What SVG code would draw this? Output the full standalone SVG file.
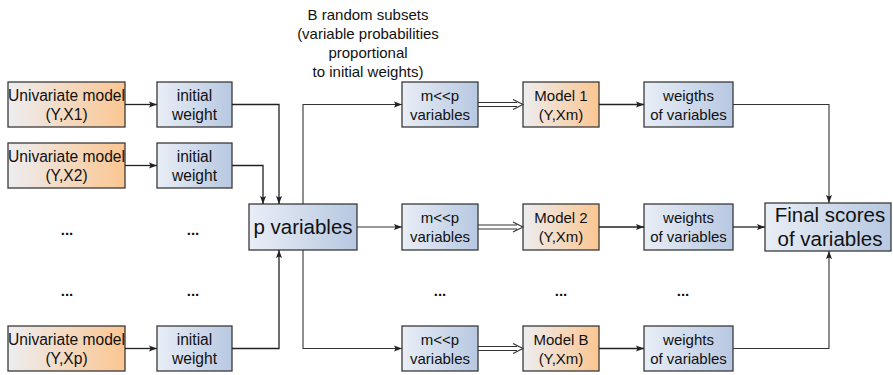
<svg xmlns="http://www.w3.org/2000/svg" width="893" height="375" viewBox="0 0 893 375">
  <defs>
    <linearGradient id="gOrange" x1="0" y1="0" x2="1" y2="0">
      <stop offset="0" stop-color="#ededf0"/>
      <stop offset="1" stop-color="#fbc691"/>
    </linearGradient>
    <linearGradient id="gBlue" x1="0" y1="0" x2="1" y2="0">
      <stop offset="0" stop-color="#e9eef6"/>
      <stop offset="1" stop-color="#b7c8e1"/>
    </linearGradient>
    <marker id="arr" viewBox="0 0 8 8" refX="8" refY="4" markerWidth="8" markerHeight="8" markerUnits="userSpaceOnUse" orient="auto">
      <path d="M0,1 L8,4 L0,7 L1.5,4 Z" fill="#222"/>
    </marker>
    <style>
      .box { stroke: #3a3a3a; stroke-width: 1.3; }
      .or { fill: url(#gOrange); }
      .bl { fill: url(#gBlue); }
      text { font-family: "Liberation Sans", Arial, sans-serif; fill: #111; text-anchor: middle; }
      .t { font-size: 15px; }
      .u { font-size: 15.6px; }
      .big { font-size: 20.5px; }
      .dots { font-size: 15px; font-weight: bold; }
      .con { fill: none; stroke: #222; stroke-width: 1.3; }
      .con2 { fill: none; stroke: #333; stroke-width: 1.1; }
    </style>
  </defs>

  <!-- caption over the sampling step -->
  <g id="caption">
    <text class="t" x="368" y="20">B random subsets</text>
    <text class="t" x="368" y="39">(variable probabilities</text>
    <text class="t" x="368" y="58">proportional</text>
    <text class="t" x="368" y="77">to initial weights)</text>
  </g>

  <!-- univariate models -->
  <g id="uni1">
    <rect class="box or" x="8" y="82" width="117" height="45"/>
    <text class="u" x="66.5" y="101">Univariate model</text>
    <text class="u" x="66.5" y="120">(Y,X1)</text>
  </g>
  <g id="uni2">
    <rect class="box or" x="8" y="143" width="117" height="45"/>
    <text class="u" x="66.5" y="162">Univariate model</text>
    <text class="u" x="66.5" y="181">(Y,X2)</text>
  </g>
  <g id="unip">
    <rect class="box or" x="8" y="326" width="117" height="45"/>
    <text class="u" x="66.5" y="345">Univariate model</text>
    <text class="u" x="66.5" y="364">(Y,Xp)</text>
  </g>

  <!-- initial weights -->
  <g id="w1">
    <rect class="box bl" x="157" y="82" width="75" height="45"/>
    <text class="u" x="194.5" y="101">initial</text>
    <text class="u" x="194.5" y="120">weight</text>
  </g>
  <g id="w2">
    <rect class="box bl" x="157" y="143" width="75" height="45"/>
    <text class="u" x="194.5" y="162">initial</text>
    <text class="u" x="194.5" y="181">weight</text>
  </g>
  <g id="wp">
    <rect class="box bl" x="157" y="326" width="75" height="45"/>
    <text class="u" x="194.5" y="345">initial</text>
    <text class="u" x="194.5" y="364">weight</text>
  </g>

  <!-- ellipsis rows -->
  <g id="dots">
    <text class="dots" x="67" y="235">...</text>
    <text class="dots" x="193" y="235">...</text>
    <text class="dots" x="67" y="296">...</text>
    <text class="dots" x="193" y="296">...</text>
    <text class="dots" x="440" y="296">...</text>
    <text class="dots" x="561" y="296">...</text>
    <text class="dots" x="683" y="296">...</text>
  </g>

  <!-- pooled variables -->
  <g id="pvars">
    <rect class="box bl" x="249" y="204" width="108" height="46"/>
    <text class="big" x="303" y="234">p variables</text>
  </g>

  <!-- subsets -->
  <g id="s1">
    <rect class="box bl" x="402" y="82" width="76" height="45"/>
    <text class="t" x="440" y="101">m&lt;&lt;p</text>
    <text class="t" x="440" y="120">variables</text>
  </g>
  <g id="s2">
    <rect class="box bl" x="402" y="204" width="76" height="46"/>
    <text class="t" x="440" y="223">m&lt;&lt;p</text>
    <text class="t" x="440" y="242">variables</text>
  </g>
  <g id="sB">
    <rect class="box bl" x="402" y="326" width="76" height="45"/>
    <text class="t" x="440" y="345">m&lt;&lt;p</text>
    <text class="t" x="440" y="364">variables</text>
  </g>

  <!-- models on subsets -->
  <g id="m1">
    <rect class="box or" x="523" y="82" width="76" height="45"/>
    <text class="t" x="561" y="101">Model 1</text>
    <text class="t" x="561" y="120">(Y,Xm)</text>
  </g>
  <g id="m2">
    <rect class="box or" x="523" y="204" width="76" height="46"/>
    <text class="t" x="561" y="223">Model 2</text>
    <text class="t" x="561" y="242">(Y,Xm)</text>
  </g>
  <g id="mB">
    <rect class="box or" x="523" y="326" width="76" height="45"/>
    <text class="t" x="561" y="345">Model B</text>
    <text class="t" x="561" y="364">(Y,Xm)</text>
  </g>

  <!-- per-model weights -->
  <g id="v1">
    <rect class="box bl" x="644" y="82" width="89" height="45"/>
    <text class="t" x="688.5" y="101">weigths</text>
    <text class="t" x="688.5" y="120">of variables</text>
  </g>
  <g id="v2">
    <rect class="box bl" x="644" y="204" width="89" height="46"/>
    <text class="t" x="688.5" y="223">weights</text>
    <text class="t" x="688.5" y="242">of variables</text>
  </g>
  <g id="vB">
    <rect class="box bl" x="644" y="326" width="89" height="45"/>
    <text class="t" x="688.5" y="345">weights</text>
    <text class="t" x="688.5" y="364">of variables</text>
  </g>

  <!-- final result -->
  <g id="final">
    <rect class="box bl" x="765" y="203" width="126" height="48"/>
    <text class="big" x="830" y="222">Final scores</text>
    <text class="big" x="830" y="246">of variables</text>
  </g>

  <!-- connectors -->
  <g id="connectors">
    <path class="con" d="M125,104.5 H157" marker-end="url(#arr)"/>
    <path class="con" d="M125,165.5 H157" marker-end="url(#arr)"/>
    <path class="con" d="M125,348.5 H157" marker-end="url(#arr)"/>

    <path class="con" d="M232,104.5 H279 V204" marker-end="url(#arr)"/>
    <path class="con" d="M232,165.5 H263 V204" marker-end="url(#arr)"/>
    <path class="con" d="M232,348.5 H279 V250" marker-end="url(#arr)"/>

    <path class="con2" d="M303,204 V104.5 H402" marker-end="url(#arr)"/>
    <path class="con2" d="M357,227 H402" marker-end="url(#arr)"/>
    <path class="con2" d="M303,250 V348.5 H402" marker-end="url(#arr)"/>

    <!-- double-line hollow arrows from subsets to models -->
    <g class="con2">
      <path d="M478,102.5 H517 M478,106.5 H517 M513,99.5 L523,104.5 L513,109.5"/>
      <path d="M478,225 H517 M478,229 H517 M513,222 L523,227 L513,232"/>
      <path d="M478,346.5 H517 M478,350.5 H517 M513,343.5 L523,348.5 L513,353.5"/>
    </g>

    <path class="con" d="M599,104.5 H644" marker-end="url(#arr)"/>
    <path class="con" d="M599,227 H644" marker-end="url(#arr)"/>
    <path class="con" d="M599,348.5 H644" marker-end="url(#arr)"/>

    <path class="con2" d="M733,104.5 H829 V203" marker-end="url(#arr)"/>
    <path class="con" d="M733,227 H765" marker-end="url(#arr)"/>
    <path class="con2" d="M733,348.5 H829 V251" marker-end="url(#arr)"/>
  </g>
</svg>
